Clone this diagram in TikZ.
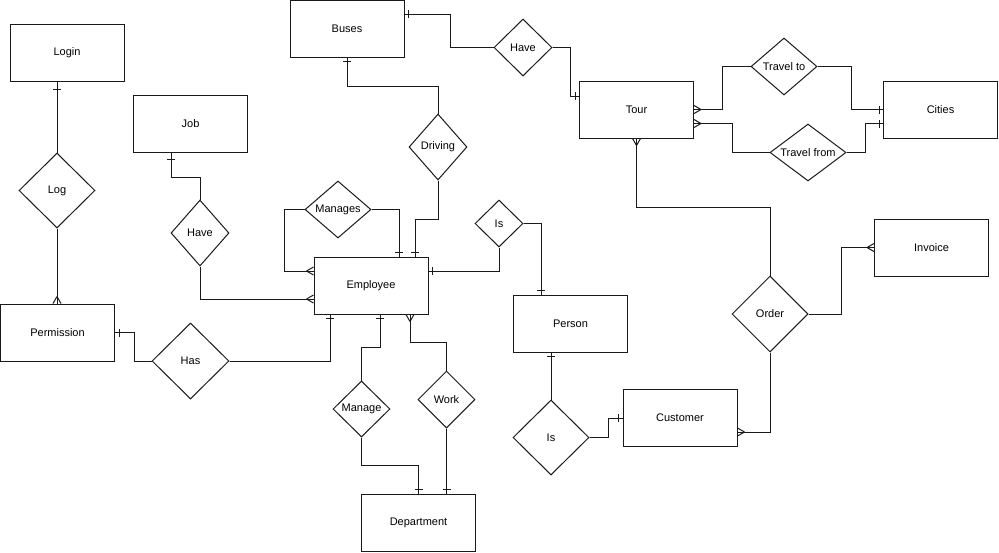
\documentclass[tikz,border=0pt]{standalone}
\usepackage{fontspec}
\setmainfont{Liberation Sans}
\usetikzlibrary{shapes.geometric,decorations.markings}
\definecolor{lc}{HTML}{1A1A1A}
\tikzset{
  ent/.style={draw=lc, line width=1pt, rectangle, minimum width=114pt, minimum height=57pt, inner sep=0pt, font=\fontsize{11pt}{13pt}\selectfont},
  rel/.style={draw=lc, line width=1pt, diamond, inner sep=0pt, label={[font=\fontsize{11pt}{13pt}\selectfont]center:#1}},
  con/.style={draw=lc, line width=1pt},
  ms/.style={line width=1pt, draw=lc},
  one start/.style={postaction={decorate,decoration={markings,mark=at position #1 with {\draw[ms] (0,-4pt)--(0,4pt);}}}},
  one start/.default=4pt,
  one end/.style={postaction={decorate,decoration={markings,mark=at position -#1 with {\draw[ms] (0,-4pt)--(0,4pt);}}}},
  one end/.default=4pt,
  many start/.style={postaction={decorate,decoration={markings,mark=at position 7pt with {\draw[ms] (0,0)--(-7pt,4pt) (0,0)--(-7pt,-4pt);}}}},
  many end/.style={postaction={decorate,decoration={markings,mark=at position -7pt with {\draw[ms] (0,0)--(7pt,4pt) (0,0)--(7pt,-4pt);}}}},
}
\begin{document}
\begin{tikzpicture}[x=1pt,y=-1pt]
\useasboundingbox (0,0) rectangle (999,552);
% entities
\node[ent] (login) at (67,52.5) {Login};
\node[ent] (job) at (190.5,124) {Job};
\node[ent] (perm) at (57.5,332.5) {Permission};
\node[ent] (emp) at (371,285.5) {Employee};
\node[ent] (buses) at (347,28.5) {Buses};
\node[ent] (tour) at (636.5,109.5) {Tour};
\node[ent] (cities) at (940.5,109.5) {Cities};
\node[ent] (person) at (570.5,323.5) {Person};
\node[ent] (cust) at (680,418) {Customer};
\node[ent] (invoice) at (931.5,247.5) {Invoice};
\node[ent] (dept) at (418.5,522.5) {Department};
% relationships
\node[rel=Log, minimum width=76pt, minimum height=75pt] (log) at (57,190.5) {};
\node[rel=Have, minimum width=58pt, minimum height=66pt] (jobhave) at (200,233) {};
\node[rel=Has, minimum width=77pt, minimum height=76pt] (has) at (190.5,361) {};
\node[rel=Manages, minimum width=66pt, minimum height=57pt] (manages) at (338,209.5) {};
\node[rel=Is, minimum width=48pt, minimum height=47pt] (isup) at (499,223.5) {};
\node[rel=Driving, minimum width=58pt, minimum height=66pt] (driving) at (438,147) {};
\node[rel=Manage, minimum width=57pt, minimum height=56pt] (manage) at (361.5,409) {};
\node[rel=Work, minimum width=57pt, minimum height=57pt] (work) at (446.5,399.5) {};
\node[rel=Have, minimum width=58pt, minimum height=57pt] (bhave) at (523,47.5) {};
\node[rel={Travel to}, minimum width=66pt, minimum height=57pt] (travto) at (784,66.5) {};
\node[rel={Travel from}, minimum width=76pt, minimum height=57pt] (travfrom) at (808,152.5) {};
\node[rel=Order, minimum width=76pt, minimum height=76pt] (order) at (770,314) {};
\node[rel=Is, minimum width=76pt, minimum height=75pt] (islow) at (551,437.5) {};
% connectors
\draw[con, one start=8pt] (login.south -| log.north) -- (log.north);
\draw[con, many end] (log.south) -- (log.south |- perm.north);
\draw[con, one start=6pt] ([xshift=-19.5pt]job.south) -- ++(0,24) -| (jobhave.north);
\draw[con, many end] (jobhave.south) |- ([yshift=-13.5pt]emp.west);
\draw[con, many end] (manages.west) -- ++(-20,0) |- ([yshift=14.5pt]emp.west);
\draw[con, one end] (manages.east) -| ([xshift=28pt]emp.north);
\draw[con, one start] (buses.south) -- ++(0,29) -| (driving.north);
\draw[con, one end] (driving.south) -- ++(0,39) -| ([xshift=44pt]emp.north);
\draw[con, one end] (isup.south) |- ([yshift=14.5pt]emp.east);
\draw[con, one end] (isup.east) -| ([xshift=-29.5pt]person.north);
\draw[con, one start] (perm.east) -- ++(19,0) |- (has.west);
\draw[con, one end] (has.east) -| ([xshift=-41pt]emp.south);
\draw[con, one start] ([xshift=9pt]emp.south) -- ++(0,33) -| (manage.north);
\draw[con, one end] (manage.south) -- ++(0,28) -| (dept.north);
\draw[con, many start] ([xshift=39pt]emp.south) -- ++(0,28) -| (work.north);
\draw[con, one end] (work.south) -- (work.south |- dept.north);
\draw[con, one start] ([yshift=14.5pt]buses.east) -- ++(46,0) |- (bhave.west);
\draw[con, one end] (bhave.east) -- ++(18,0) |- ([yshift=13.5pt]tour.west);
\draw[con, many start] (tour.east) -- ++(28,0) |- (travto.west);
\draw[con, one end] (travto.east) -- ++(34,0) |- (cities.west);
\draw[con, many start] ([yshift=-14pt]tour.east) -- ++(38,0) |- (travfrom.west);
\draw[con, one end] (travfrom.east) -- ++(19,0) |- ([yshift=-14pt]cities.west);
\draw[con, many start] (tour.south) -- ++(0,69) -| (order.north);
\draw[con, many end] (order.east) -- ++(33,0) |- (invoice.west);
\draw[con, many end] (order.south) |- ([yshift=-14pt]cust.east);
\draw[con, one start] (islow.north |- person.south) -- (islow.north);
\draw[con, one end] (islow.east) -- ++(19,0) |- (cust.west);
\end{tikzpicture}
\end{document}
